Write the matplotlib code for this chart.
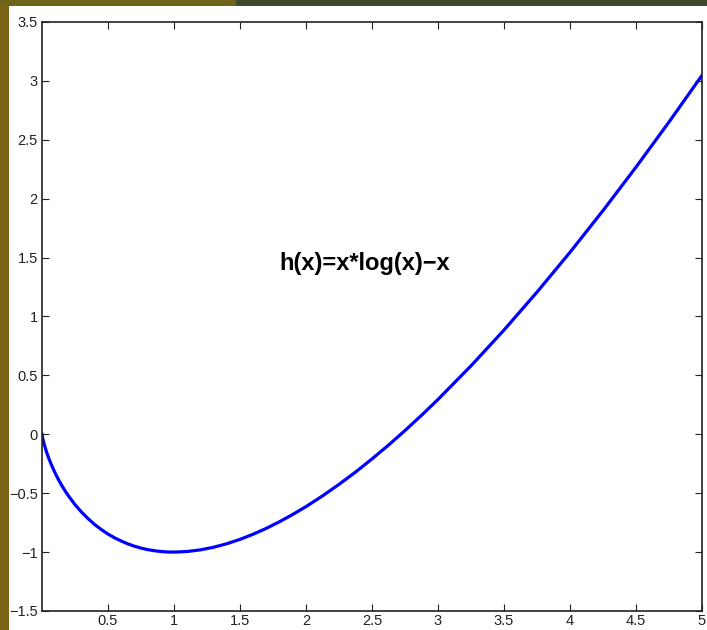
import matplotlib.pyplot as plt
from matplotlib.patches import Rectangle

x = [0, 0.005, 0.01, 0.02, 0.035, 0.05, 0.075, 0.1, 0.125, 0.15, 0.175,
     0.2, 0.25, 0.3, 0.35, 0.4, 0.45, 0.5, 0.55, 0.6, 0.65, 0.7, 0.75,
     0.8, 0.85, 0.9, 0.95, 1.0, 1.1, 1.2, 1.3, 1.4, 1.5, 1.6, 1.7, 1.8,
     1.9, 2.0, 2.125, 2.25, 2.375, 2.5, 2.625, 2.75, 2.875, 3.0, 3.25,
     3.5, 3.75, 4.0, 4.25, 4.5, 4.75, 5.0]
h = [0, -0.032, -0.056, -0.098, -0.152, -0.200, -0.269, -0.330, -0.385,
     -0.435, -0.480, -0.522, -0.597, -0.661, -0.717, -0.767, -0.809,
     -0.847, -0.879, -0.906, -0.930, -0.950, -0.966, -0.979, -0.988,
     -0.995, -0.999, -1.0, -0.995, -0.981, -0.959, -0.929, -0.892,
     -0.848, -0.798, -0.742, -0.680, -0.614, -0.523, -0.425, -0.321,
     -0.209, -0.092, 0.032, 0.161, 0.296, 0.581, 0.885, 1.207, 1.545,
     1.899, 2.268, 2.651, 3.047]

xticks = [0.5, 1, 1.5, 2, 2.5, 3, 3.5, 4, 4.5, 5]
xlabels = ["0.5", "1", "1.5", "2", "2.5", "3", "3.5", "4", "4.5", "5"]
yticks = [-1.5, -1, -0.5, 0, 0.5, 1, 1.5, 2, 2.5, 3, 3.5]
ylabels = ["−1.5", "−1", "−0.5", "0", "0.5", "1", "1.5", "2", "2.5", "3", "3.5"]

plt.rcParams['font.family'] = ['Liberation Sans', 'DejaVu Sans']

fig = plt.figure(figsize=(7.07, 6.30), dpi=100)
fig.patch.set_facecolor('white')

# slide frame strips
fig.patches.append(Rectangle((0, 0), 9/707, 1, transform=fig.transFigure,
                             facecolor='#7a6516', edgecolor='none'))
fig.patches.append(Rectangle((0, 1 - 6/630), 236/707, 6/630, transform=fig.transFigure,
                             facecolor='#6e6419', edgecolor='none'))
fig.patches.append(Rectangle((236/707, 1 - 6/630), 1, 6/630, transform=fig.transFigure,
                             facecolor='#3f4a2a', edgecolor='none'))

ax = fig.add_axes([42/707, 19/630, 660/707, 589/630])
ax.plot(x, h, color='#0000ff', linewidth=2.3)
ax.set_xlim(0, 5)
ax.set_ylim(-1.5, 3.5)
ax.set_xticks(xticks)
ax.set_xticklabels(xlabels)
ax.set_yticks(yticks)
ax.set_yticklabels(ylabels)
ax.tick_params(direction='in', length=5, width=0.8, top=True, right=True,
               labelsize=10.5, colors='#222222')
ax.tick_params(axis='x', pad=2.5)
ax.tick_params(axis='y', pad=3)
for s in ax.spines.values():
    s.set_linewidth(1.2)
    s.set_color('#222222')

ax.text(1.8, 1.45, "h(x)=x*log(x)−x", fontsize=17, fontweight='bold',
        ha='left', va='center')

fig.savefig("out.png", dpi=100)
